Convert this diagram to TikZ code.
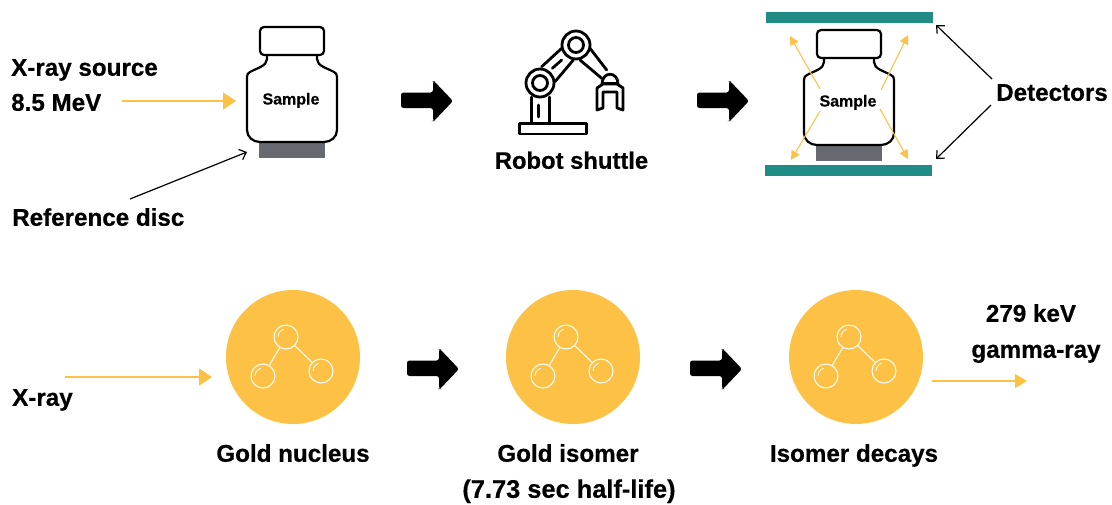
\documentclass[tikz,border=0pt]{standalone}
\usepackage{fontspec}
\setmainfont[BoldFeatures={FakeBold=0.5}]{Liberation Sans}
\usetikzlibrary{arrows.meta}
\definecolor{gold}{HTML}{FDC245}
\definecolor{teal2}{HTML}{218C85}
\definecolor{discgrey}{HTML}{666A70}
\tikzset{
  x=1pt,y=-1pt,
  lbl/.style={inner sep=0pt,text height=17.5pt,text depth=0pt,font=\bfseries\fontsize{24.2}{24}\selectfont,text=black},
  smp/.style={inner sep=0pt,text height=11pt,text depth=0pt,font=\bfseries\fontsize{16}{16}\selectfont,text=black},
  yarrow/.style={draw=gold,line width=2pt,-{Triangle[length=13pt,width=17pt,fill=gold]}},
  ysmall/.style={draw=gold,line width=1.1pt,-{Triangle[length=9pt,width=9pt,fill=gold]}},
  thinarrow/.style={draw=black,line width=1.2pt,-{Straight Barb[length=6pt,width=11pt]}},
  pics/bottle/.style={code={
    \fill[discgrey] (12,115) rectangle (78,131);
    \draw[line width=2.2pt,fill=white,rounded corners=4pt] (13,0) rectangle (77,28);
    \draw[line width=2.2pt,line join=round]
      (20,28) -- (20,32) .. controls (20,39) and (10,41) .. (3,45)
      .. controls (1,46) and (0,47) .. (0,50)
      -- (0,103) .. controls (0,110) and (6,115) .. (13,115)
      -- (77,115) .. controls (84,115) and (90,110) .. (90,103)
      -- (90,50) .. controls (90,47) and (89,46) .. (87,45)
      .. controls (80,41) and (70,39) .. (70,32) -- (70,28);
  }},
  pics/blockarrow/.style={code={
    \fill[black,rounded corners=2.5pt] (0,11.5) -- (32,11.5) -- (32,0) -- (33,0) -- (52,20) -- (33,40) -- (32,40) -- (32,27) -- (0,27) -- cycle;
  }},
  ball/.style={circle,draw=white,line width=1pt,minimum size=24pt,inner sep=0pt},
  pics/molecule/.style={code={
    \fill[gold] (0,0) circle (67);
    \node[ball] (-t) at (-7,-20) {};
    \node[ball] (-l) at (-30,19) {};
    \node[ball] (-r) at (28,14) {};
    \draw[white,line width=1pt] (-t) -- (-l);
    \draw[white,line width=1pt] (-t) -- (-r);
    \foreach \p in {(-7,-20),(-30,19),(28,14)}{
      \draw[white,line width=.8pt,shift={\p}] (-8,0) arc[start angle=180,end angle=255,radius=8];
    }
  }}
}
\begin{document}
\begin{tikzpicture}
\useasboundingbox (0,0) rectangle (1112,504);

% ---- top row, left
\pic at (247,27) {bottle};
\node[smp] (sample1) at (291,99) {Sample};
\node[lbl,anchor=west] (source) at (11,67) {X-ray source};
\node[lbl,anchor=west] (mev) at (11,102) {8.5 MeV};
\node[lbl,anchor=west] (refdisc) at (12,217) {Reference disc};
\coordinate (xs) at (122,101);
\coordinate (xe) at (236,101);
\draw[yarrow] (xs) -- (xe);
\coordinate (rs) at (130,199);
\coordinate (re) at (247,152);
\draw[thinarrow] (rs) -- (re);

\pic at (401,81) {blockarrow};

% ---- robot
\begin{scope}[line width=2.8pt,line join=round,line cap=round]
  \draw (519.5,123.5) rectangle (586.5,134);
  \draw (531.7,97) -- (531.7,123);
  \draw (549.3,97) -- (549.3,123);
  \draw (538.5,105) -- (538.5,117);
  \draw (540,83) circle (14);
  \draw (540,83) circle (7.5);
  \draw (576,45) circle (14);
  \draw (576,45) circle (7.5);
  \draw (541.7,66.7) -- (561.7,48.3);
  \draw (555,81.7) -- (573.3,60);
  \draw (552.3,68.3) -- (561.7,60);
  \draw (590,48.3) -- (606.7,70);
  \draw (580,60) -- (601.7,78.3);
  \draw (602,84) .. controls (602,71) and (618,71) .. (618,84);
  \draw (603,83.5) -- (617,83.5);
  \draw (597,88) -- (597,110) -- (603,108) -- (603,92) -- (617,92) -- (617,108) -- (623,110) -- (623,88) -- (617,84) -- (603,84) -- cycle;
\end{scope}
\node[lbl,font=\bfseries\fontsize{23.8}{24}\selectfont] (robot) at (571.5,160) {Robot shuttle};

\pic at (697,81) {blockarrow};

% ---- top row, right
\fill[teal2] (766,12) rectangle (933,23);
\fill[teal2] (765,165) rectangle (932,176);
\coordinate (dett) at (936,25);
\coordinate (detb) at (936,159);
\pic at (804,30) {bottle};
\node[smp] (sample2) at (848,101) {Sample};
\coordinate (c1) at (820,89);
\coordinate (c2) at (881,90);
\coordinate (c3) at (820,111);
\coordinate (c4) at (880,109);
\coordinate (e1) at (790,36);
\coordinate (e2) at (908,35);
\coordinate (e3) at (791,160);
\coordinate (e4) at (908,159);
\draw[ysmall] (c1) -- (e1);
\draw[ysmall] (c2) -- (e2);
\draw[ysmall] (c3) -- (e3);
\draw[ysmall] (c4) -- (e4);
\node[lbl] (det) at (1052,92) {Detectors};
\coordinate (ds1) at (992,79);
\coordinate (ds2) at (991,105);
\draw[thinarrow] (ds1) -- (dett);
\draw[thinarrow] (ds2) -- (detb);

% ---- bottom row
\pic at (293,357) {molecule};
\pic at (573,357) {molecule};
\pic at (856,357) {molecule};
\pic at (407,349) {blockarrow};
\pic at (690,349) {blockarrow};
\node[lbl,anchor=west] (xray) at (12,397) {X-ray};
\coordinate (bs) at (65,377);
\coordinate (be) at (212,377);
\draw[yarrow] (bs) -- (be);
\coordinate (gs) at (932,381);
\coordinate (ge) at (1027,381);
\draw[draw=gold,line width=1.6pt,-{Triangle[length=12pt,width=14pt,fill=gold]}] (gs) -- (ge);
\node[lbl] (kev) at (1031,313) {279 keV};
\node[lbl] (gamma) at (1036,349) {gamma-ray};
\node[lbl] (nucleus) at (293,453) {Gold nucleus};
\node[lbl] (isomer) at (568,453) {Gold isomer};
\node[lbl,font=\bfseries\fontsize{25.4}{24}\selectfont] (half) at (569,489) {(7.73 sec half-life)};
\node[lbl] (decay) at (854,453) {Isomer decays};
\end{tikzpicture}
\end{document}
